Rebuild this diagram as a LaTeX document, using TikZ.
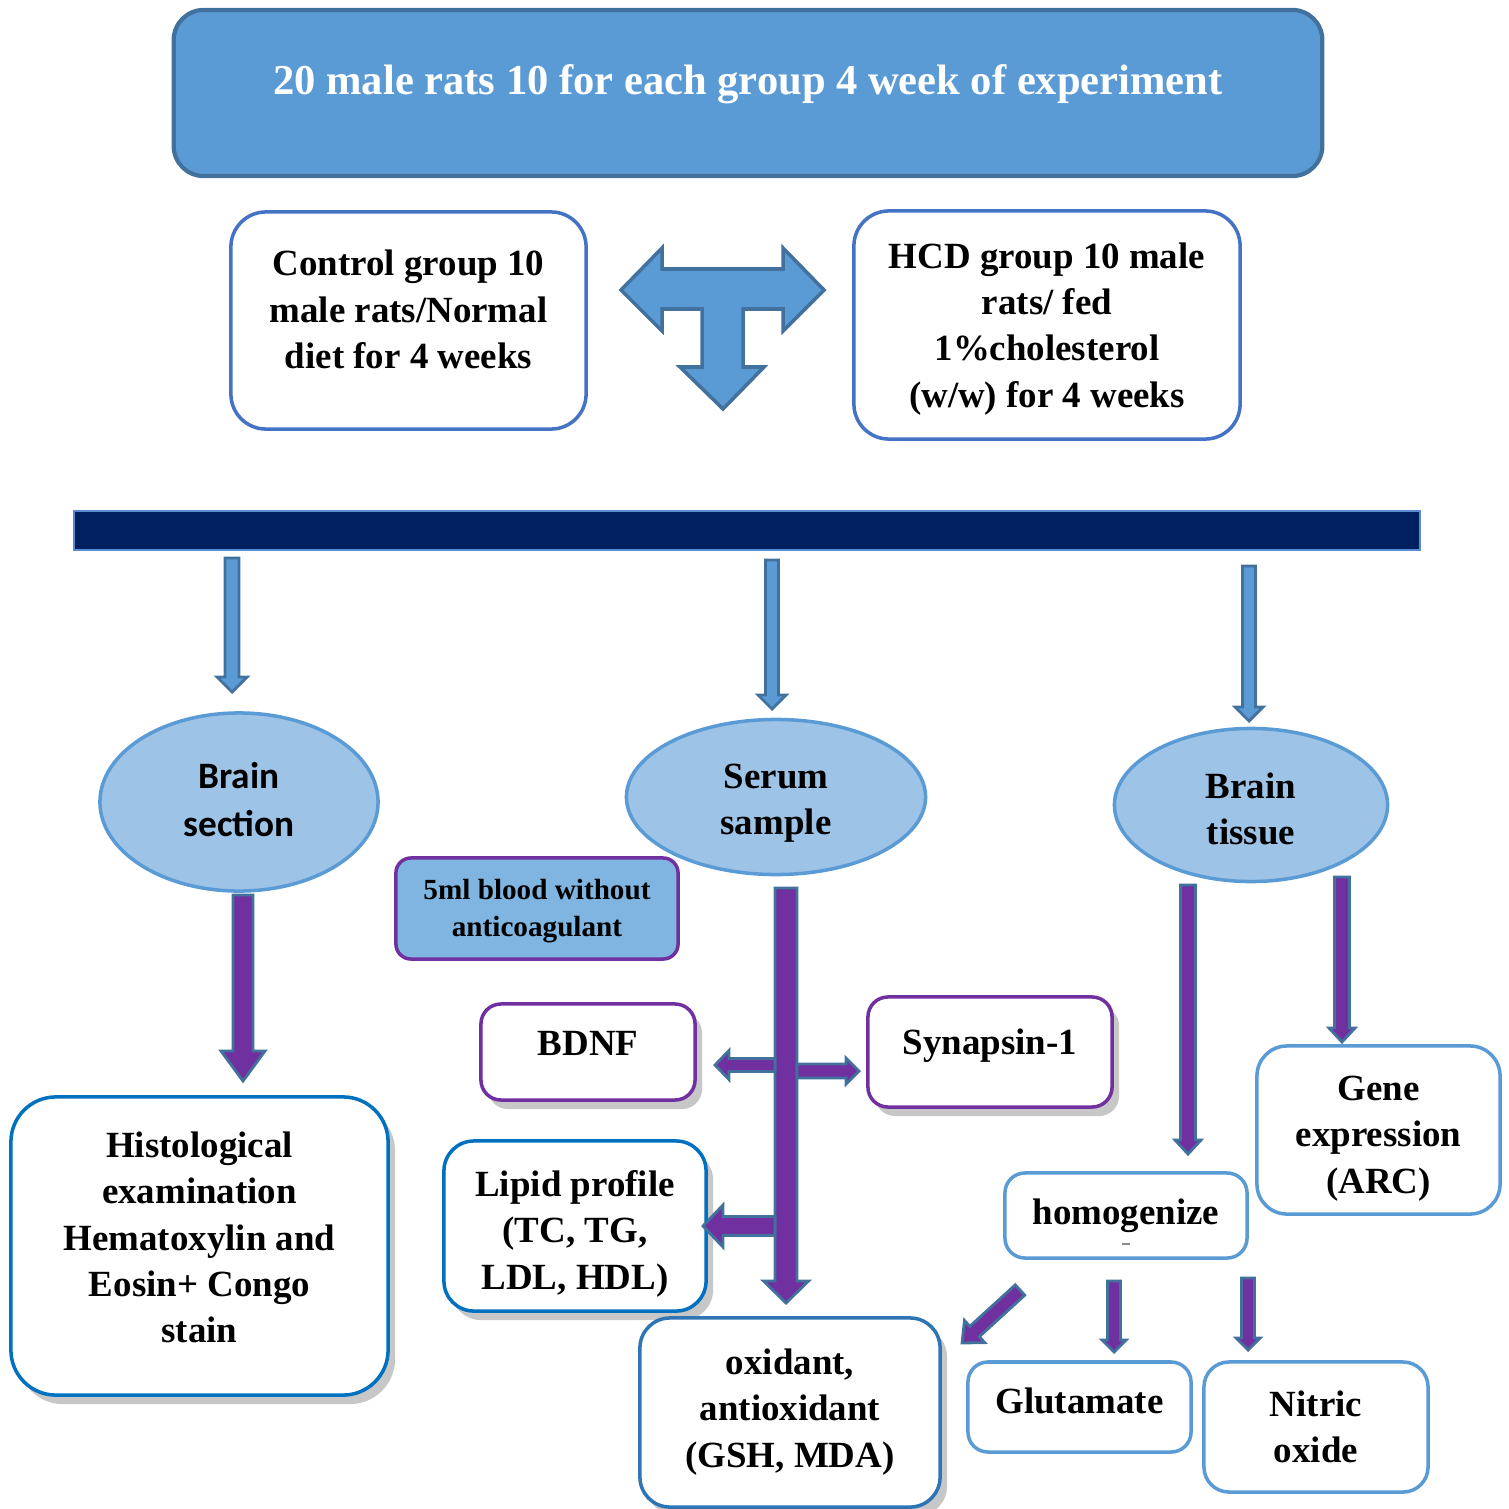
\documentclass[tikz,border=0pt]{standalone}
\usepackage{fontspec}
\setmainfont{Liberation Serif}
\newfontfamily\calibfont{Carlito}
\usetikzlibrary{shapes.geometric,calc,shadows}
\definecolor{tblue}{HTML}{5B9BD5}
\definecolor{tedge}{HTML}{41719C}
\definecolor{ellfill}{HTML}{9DC3E6}
\definecolor{navy}{HTML}{002060}
\definecolor{barline}{HTML}{5B8BD0}
\definecolor{purp}{HTML}{7030A0}
\definecolor{boxblue}{HTML}{4472C4}
\definecolor{deepblue}{HTML}{0070C0}
\definecolor{midblue}{HTML}{2E75B6}
\definecolor{bloodfill}{HTML}{7FB5E0}
\newcommand\mainfnt{\fontsize{10.5}{13.2}\selectfont\bfseries}
\newcommand\boxdp[1]{\rule[-#1]{0pt}{#1}}
\newcommand\boxht[1]{\rule{0pt}{#1}}
% block arrow: #1 style, #2 from, #3 to, #4 shaft half width, #5 head half width, #6 head length
\newcommand\blockarr[6]{%
  \path let \p1=(#2), \p2=(#3) in \pgfextra{%
    \pgfmathsetmacro\tmpAng{atan2(\y2-\y1,\x2-\x1)}%
    \pgfmathsetmacro\tmpLen{veclen(\x2-\x1,\y2-\y1)}%
    \xdef\bAng{\tmpAng}\xdef\bLen{\tmpLen}};
  \begin{scope}[shift={(#2)}, rotate=\bAng]
    \draw[#1] (0pt,-#4) -- ({\bLen pt-#6},-#4) -- ({\bLen pt-#6},-#5) -- (\bLen pt,0pt)
      -- ({\bLen pt-#6},#5) -- ({\bLen pt-#6},#4) -- (0pt,#4) -- cycle;
  \end{scope}}
\begin{document}
\begin{tikzpicture}[x=0.01cm,y=-0.01cm,
  rbox/.style={draw, fill=white, line width=1pt, align=center, font=\mainfnt, inner sep=0pt},
  shadowed/.style={drop shadow={shadow xshift=0.7mm, shadow yshift=-0.9mm, opacity=0.22, fill=black}},
  ell/.style={ellipse, draw=tblue, fill=ellfill, line width=1pt, align=center, inner sep=0pt, font=\mainfnt},
  barr/.style={fill=tblue, draw=tedge, line width=0.8pt, line join=miter},
  parr/.style={fill=purp, draw=tedge, line width=0.8pt, line join=miter}]
\useasboundingbox (0,0) rectangle (1509,1509);

% title
\node[rbox, draw=tedge, fill=tblue, rounded corners=0.3cm, minimum width=11.48cm, minimum height=1.66cm,
  text=white, font=\fontsize{12.1}{14}\selectfont\bfseries, line width=1.2pt] (title) at (748,93)
  {20 male rats 10 for each group 4 week of experiment\boxdp{7.5pt}};

% groups
\node[rbox, draw=boxblue, rounded corners=0.35cm, minimum width=3.55cm, minimum height=2.17cm] (ctrl) at (408.5,320.5)
  {Control group 10\\male rats/Normal\\diet for 4 weeks\boxdp{6.2pt}};
\node[rbox, draw=boxblue, rounded corners=0.35cm, minimum width=3.86cm, minimum height=2.28cm] (hcd) at (1047,325)
  {\boxht{9.5pt}HCD group 10 male\\rats/ fed\\1\%cholesterol\\(w/w) for 4 weeks};

% T-arrow
\draw[fill=tblue, draw=tedge, line width=1pt, line join=miter]
  (621,290) -- (662,248) -- (662,269) -- (783,269) -- (783,248) -- (824,290) -- (783,331) -- (783,309)
  -- (743,309) -- (743,367) -- (764,367) -- (723,409) -- (680,367) -- (702,367) -- (702,309)
  -- (662,309) -- (662,331) -- cycle;

% bar
\node[draw=barline, fill=navy, minimum width=13.46cm, minimum height=0.39cm, inner sep=0pt, line width=0.6pt] (bar) at (747,530.5) {};

% ellipses
\node[ell, minimum width=2.78cm, minimum height=1.78cm, font=\calibfont\fontsize{10.6}{13.7}\selectfont\bfseries] (bs) at (239,802) {Brain\\section\boxdp{1.7pt}};
\node[ell, minimum width=2.99cm, minimum height=1.55cm] (ss) at (776,797) {\boxht{10.6pt}Serum\\sample};
\node[ell, minimum width=2.73cm, minimum height=1.53cm] (bt) at (1251,805) {\boxht{9.5pt}Brain\\tissue};

% serum side
\node[rbox, draw=purp, fill=bloodfill, rounded corners=0.15cm, minimum width=2.82cm, minimum height=1.01cm,
  font=\fontsize{8.3}{10.5}\selectfont\bfseries] (blood) at (537,908.5) {\boxht{7.4pt}5ml blood without\\anticoagulant};
\node[rbox, shadowed, draw=purp, rounded corners=0.2cm, minimum width=2.14cm, minimum height=0.96cm] (bdnf) at (588,1052) {BDNF\boxdp{4.9pt}};
\node[rbox, shadowed, draw=purp, rounded corners=0.2cm, minimum width=2.44cm, minimum height=1.10cm] (syn) at (990,1052) {Synapsin-1\boxdp{6.0pt}};
\node[rbox, shadowed, draw=deepblue, rounded corners=0.3cm, minimum width=2.62cm, minimum height=1.70cm] (lipid) at (575,1226)
  {\boxht{11.8pt}Lipid profile\\(TC, TG,\\LDL, HDL)};
\node[rbox, shadowed, draw=midblue, rounded corners=0.3cm, minimum width=3.00cm, minimum height=1.89cm] (oxi) at (790,1412.5)
  {oxidant,\\antioxidant\\(GSH, MDA)\boxdp{2.7pt}};

% brain section
\node[rbox, shadowed, draw=deepblue, rounded corners=0.45cm, minimum width=3.77cm, minimum height=2.98cm] (hist) at (199.5,1246)
  {Histological\\examination\\Hematoxylin and\\Eosin+ Congo\\stain\boxdp{5.0pt}};

% brain tissue
\node[rbox, draw=tblue, rounded corners=0.3cm, minimum width=2.43cm, minimum height=1.68cm] (gene) at (1378.5,1130)
  {\boxht{11.8pt}Gene\\expression\\(ARC)};
\node[rbox, draw=tblue, rounded corners=0.2cm, minimum width=2.42cm, minimum height=0.85cm] (homog) at (1126,1215.5) {homogenize\boxdp{2.4pt}};
\draw[black!45, line width=0.5pt] ($(homog.center)+(-4,28.5)$) -- ++(8,0);
\node[rbox, draw=tblue, rounded corners=0.2cm, minimum width=2.23cm, minimum height=0.90cm] (glu) at (1079.5,1407) {Glutamate\boxdp{3.7pt}};
\node[rbox, draw=tblue, rounded corners=0.25cm, minimum width=2.24cm, minimum height=1.30cm] (nox) at (1316,1427) {Nitric\\oxide};

% arrow end points
\coordinate (a1s) at (232,558);  \coordinate (a1e) at (232,692);
\coordinate (a2s) at (772,560);  \coordinate (a2e) at (772,709);
\coordinate (a3s) at (1249,566); \coordinate (a3e) at (1249,721);
\coordinate (p1s) at (243,895);  \coordinate (p1e) at (243,1081);
\coordinate (p2s) at (786,888);  \coordinate (p2e) at (786,1303);
\coordinate (p3s) at (775,1065); \coordinate (p3e) at (715,1065);
\coordinate (p4s) at (797,1071); \coordinate (p4e) at (859,1071);
\coordinate (p5s) at (775,1226); \coordinate (p5e) at (703,1226);
\coordinate (p6s) at (1188,885); \coordinate (p6e) at (1188,1154);
\coordinate (p7s) at (1342,877); \coordinate (p7e) at (1342,1042);
\coordinate (p8s) at (1020,1290); \coordinate (p8e) at (962,1343);
\coordinate (p9s) at (1114,1281); \coordinate (p9e) at (1114,1352);
\coordinate (p10s) at (1248,1278); \coordinate (p10e) at (1248,1350);

\blockarr{barr}{a1s}{a1e}{0.07cm}{0.15cm}{0.15cm}
\blockarr{barr}{a2s}{a2e}{0.065cm}{0.14cm}{0.14cm}
\blockarr{barr}{a3s}{a3e}{0.065cm}{0.14cm}{0.14cm}

\blockarr{parr}{p1s}{p1e}{0.10cm}{0.22cm}{0.30cm}
\blockarr{parr}{p2s}{p2e}{0.11cm}{0.225cm}{0.22cm}
\blockarr{parr}{p3s}{p3e}{0.065cm}{0.145cm}{0.14cm}
\blockarr{parr}{p4s}{p4e}{0.07cm}{0.13cm}{0.13cm}
\blockarr{parr}{p5s}{p5e}{0.095cm}{0.21cm}{0.20cm}
\blockarr{parr}{p6s}{p6e}{0.075cm}{0.13cm}{0.14cm}
\blockarr{parr}{p7s}{p7e}{0.075cm}{0.13cm}{0.14cm}
\blockarr{parr}{p8s}{p8e}{0.07cm}{0.15cm}{0.17cm}
\blockarr{parr}{p9s}{p9e}{0.065cm}{0.12cm}{0.12cm}
\blockarr{parr}{p10s}{p10e}{0.065cm}{0.12cm}{0.12cm}
\end{tikzpicture}
\end{document}
